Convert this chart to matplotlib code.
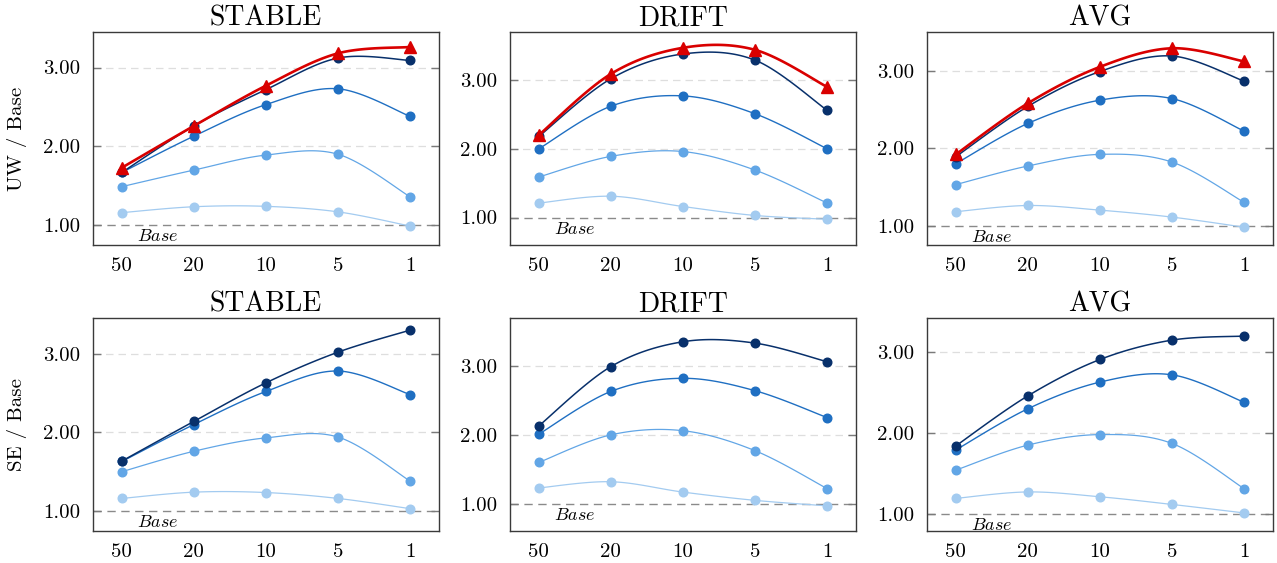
import numpy as np
import matplotlib
matplotlib.use("Agg")
import matplotlib.pyplot as plt

plt.rcParams['font.family'] = ['cmr10', 'DejaVu Serif']
plt.rcParams['mathtext.fontset'] = 'cm'
plt.rcParams['axes.unicode_minus'] = False
plt.rcParams['axes.formatter.use_mathtext'] = True

x_labels = ["50", "20", "10", "5", "1"]
titles = ["STABLE", "DRIFT", "AVG"]
row_labels = ["UW / Base", "SE / Base"]

# UW row: red (triangle) + 4 blue series from dark to light
uw_stable_red = [1.73, 2.26, 2.77, 3.18, 3.26]
uw_stable_b1 = [1.67, 2.26, 2.72, 3.12, 3.09]
uw_stable_b2 = [1.67, 2.13, 2.53, 2.73, 2.38]
uw_stable_b3 = [1.49, 1.70, 1.89, 1.90, 1.36]
uw_stable_b4 = [1.16, 1.235, 1.24, 1.17, 0.99]

uw_drift_red = [2.20, 3.09, 3.47, 3.44, 2.90]
uw_drift_b1 = [2.18, 3.02, 3.38, 3.29, 2.56]
uw_drift_b2 = [2.00, 2.62, 2.77, 2.51, 2.00]
uw_drift_b3 = [1.59, 1.89, 1.96, 1.69, 1.21]
uw_drift_b4 = [1.21, 1.31, 1.16, 1.03, 0.975]

uw_avg_red = [1.92, 2.58, 3.05, 3.29, 3.12]
uw_avg_b1 = [1.89, 2.54, 2.99, 3.19, 2.865]
uw_avg_b2 = [1.80, 2.32, 2.62, 2.64, 2.22]
uw_avg_b3 = [1.53, 1.77, 1.92, 1.82, 1.30]
uw_avg_b4 = [1.18, 1.26, 1.20, 1.11, 0.98]

# SE row: 4 blue series
se_stable_b1 = [1.635, 2.14, 2.63, 3.02, 3.30]
se_stable_b2 = [1.63, 2.10, 2.52, 2.78, 2.48]
se_stable_b3 = [1.50, 1.76, 1.93, 1.94, 1.38]
se_stable_b4 = [1.16, 1.24, 1.235, 1.16, 1.03]

se_drift_b1 = [2.13, 2.99, 3.35, 3.33, 3.06]
se_drift_b2 = [2.01, 2.63, 2.82, 2.64, 2.25]
se_drift_b3 = [1.60, 2.00, 2.06, 1.77, 1.22]
se_drift_b4 = [1.23, 1.32, 1.17, 1.05, 0.97]

se_avg_b1 = [1.84, 2.46, 2.91, 3.15, 3.20]
se_avg_b2 = [1.79, 2.30, 2.63, 2.72, 2.38]
se_avg_b3 = [1.54, 1.85, 1.98, 1.87, 1.31]
se_avg_b4 = [1.19, 1.27, 1.21, 1.115, 1.01]

panels = [
    [(uw_stable_red, [uw_stable_b1, uw_stable_b2, uw_stable_b3, uw_stable_b4]),
     (uw_drift_red, [uw_drift_b1, uw_drift_b2, uw_drift_b3, uw_drift_b4]),
     (uw_avg_red, [uw_avg_b1, uw_avg_b2, uw_avg_b3, uw_avg_b4])],
    [(None, [se_stable_b1, se_stable_b2, se_stable_b3, se_stable_b4]),
     (None, [se_drift_b1, se_drift_b2, se_drift_b3, se_drift_b4]),
     (None, [se_avg_b1, se_avg_b2, se_avg_b3, se_avg_b4])],
]
ylims = [[(0.75, 3.45), (0.60, 3.70), (0.75, 3.50)],
         [(0.75, 3.45), (0.61, 3.69), (0.79, 3.42)]]

blue_colors = ['#08306b', '#1f6fc2', '#62a6e6', '#a3cbf0']
blue_lw = [1.1, 1.0, 0.9, 0.9]
red_color = '#d90000'


def smooth(xs, ys, tension=0.5, n=30):
    xs = np.asarray(xs, float)
    ys = np.asarray(ys, float)
    pts = np.column_stack([xs, ys])
    out = []
    k = tension / 3.0
    for i in range(len(pts) - 1):
        p0 = pts[i]
        p1 = pts[i + 1]
        pm = pts[i - 1] if i > 0 else pts[i]
        pp = pts[i + 2] if i + 2 < len(pts) else pts[i + 1]
        c1 = p0 + k * (p1 - pm)
        c2 = p1 - k * (pp - p0)
        t = np.linspace(0, 1, n)[:, None]
        seg = ((1 - t) ** 3) * p0 + 3 * ((1 - t) ** 2) * t * c1 + 3 * (1 - t) * t ** 2 * c2 + t ** 3 * p1
        if i > 0:
            seg = seg[1:]
        out.append(seg)
    out = np.vstack(out)
    return out[:, 0], out[:, 1]


fig = plt.figure(figsize=(12.77, 5.63), dpi=100)
lefts = [93 / 1277, 510 / 1277, 927 / 1277]
w = 346 / 1277
bottoms = [1 - 245 / 563, 1 - 530.7 / 563]
heights = [(245 - 32) / 563, (530.7 - 318.3) / 563]

xpos = np.arange(len(x_labels))
for r in range(2):
    for c in range(3):
        ax = fig.add_axes([lefts[c], bottoms[r], w, heights[r]])
        red, blues = panels[r][c]
        # grid lines
        for gy in (2.0, 3.0):
            ax.axhline(gy, color='#dedede', lw=0.9, ls=(0, (6, 4)), zorder=0)
        ax.axhline(1.0, color='#8a8a8a', lw=1.0, ls=(0, (6, 4)), zorder=1)
        for i in range(len(blues) - 1, -1, -1):
            ys = blues[i]
            sx, sy = smooth(xpos, ys)
            ax.plot(sx, sy, color=blue_colors[i], lw=blue_lw[i], zorder=3 + (4 - i))
            ax.plot(xpos, ys, ls='none', marker='o', ms=6.2, color=blue_colors[i],
                    mec=blue_colors[i], zorder=3 + (4 - i))
        if red is not None:
            sx, sy = smooth(xpos, red)
            ax.plot(sx, sy, color=red_color, lw=1.9, zorder=10)
            ax.plot(xpos, red, ls='none', marker='^', ms=8, color=red_color, zorder=10)
        ax.set_xlim(-0.4, 4.4)
        ax.set_ylim(*ylims[r][c])
        ax.set_xticks(xpos)
        ax.set_xticklabels(x_labels)
        ax.set_yticks([1.0, 2.0, 3.0])
        ax.set_yticklabels(['1.00', '2.00', '3.00'])
        ax.tick_params(axis='x', length=0, pad=9, labelsize=15)
        ax.tick_params(axis='y', direction='in', length=6, width=1.0, color='#7a7a7a',
                       left=True, right=True, pad=9, labelsize=15)
        for s in ax.spines.values():
            s.set_color('#3a3a3a')
            s.set_linewidth(1.0)
        ax.set_title(titles[c], fontsize=20, pad=5)
        ax.annotate(r'$Base$', xy=(0.5, 1.0), xycoords='data', xytext=(0, -8),
                    textcoords='offset points', ha='center', va='center', fontsize=13)
        if c == 0:
            ax.set_ylabel(row_labels[r], fontsize=15)
            ax.yaxis.set_label_coords(-0.19, 0.5)

fig.savefig('out.png', dpi=100)
